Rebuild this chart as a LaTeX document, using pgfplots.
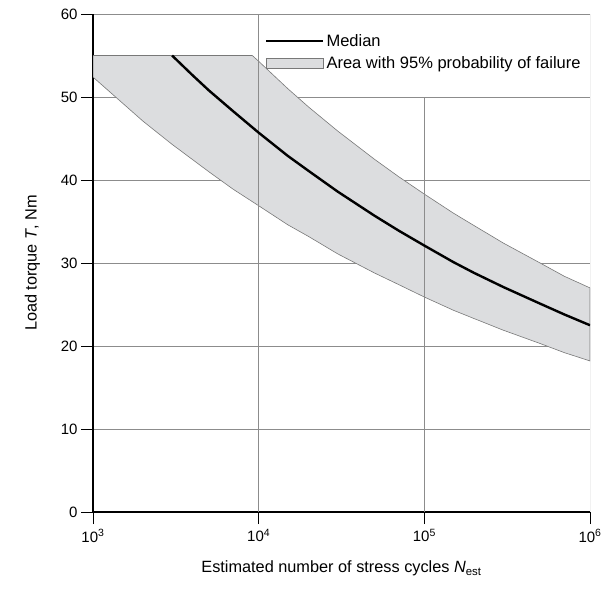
\documentclass[border=0pt]{standalone}
\usepackage{fontspec}
\setmainfont{Liberation Sans}
\usepackage{pgfplots}
\pgfplotsset{compat=1.18}
\definecolor{bandfill}{RGB}{220,221,223}
\definecolor{bandline}{RGB}{120,120,120}
\definecolor{gridc}{RGB}{140,140,140}
\begin{document}
\begin{tikzpicture}
\begin{axis}[
  name=ax,
  scale only axis,
  width=497bp, height=498bp,
  xmode=log,
  xmin=1e3, xmax=1e6,
  ymin=0, ymax=60,
  xtick={1e3,1e4,1e5,1e6},
  xticklabels={10\textsuperscript{3},10\textsuperscript{4},10\textsuperscript{5},10\textsuperscript{6}},
  ytick={0,10,20,30,40,50,60},
  xminorticks=false, yminorticks=false,
  axis x line*=bottom, axis y line*=left,
  axis line style={-, black, line width=1.3bp},
  tick style={black, line width=1bp},
  tick align=outside, major tick length=12bp,
  ymajorgrids, grid style={gridc, line width=0.9bp},
  /pgf/number format/assume math mode=true,
  ticklabel style={font=\fontsize{15bp}{17bp}\selectfont},
  xticklabel style={yshift=-2bp},
  label style={font=\fontsize{16.3bp}{19bp}\selectfont},
  xlabel={Estimated number of stress cycles \textit{N}\textsubscript{est}},
  ylabel={Load torque \textit{T}, Nm},
  xlabel style={yshift=-12bp},
  ylabel style={yshift=14bp},
  legend style={at={(0.34,0.968)}, anchor=north west, draw=none, fill=none,
    font=\fontsize{16.5bp}{19bp}\selectfont, row sep=5bp,
    /tikz/every even column/.append style={column sep=4bp}},
  legend cell align=left,
]
% 95% band
\addplot[fill=bandfill, draw=bandline, line width=0.6bp, forget plot] coordinates {
  (1000,55) (9150,55) (10000,54.3) (15000,51.0) (20000,48.8) (30000,45.9)
  (50000,42.5) (70000,40.4) (100000,38.3) (150000,36.0) (200000,34.5)
  (300000,32.4) (500000,30.0) (700000,28.4) (1000000,27.0)
  (1000000,18.2) (700000,19.2) (500000,20.3) (300000,21.9) (200000,23.3)
  (150000,24.3) (100000,25.9) (70000,27.4) (50000,28.8) (30000,31.1)
  (20000,33.2) (15000,34.6) (10000,36.9) (7000,38.9) (5000,41.0)
  (3000,44.3) (2000,47.1) (1500,49.3) (1000,52.4)
} -- cycle;
% vertical grid lines
\addplot[gridc, line width=0.9bp, forget plot] coordinates {(1e4,0) (1e4,60)};
\addplot[gridc, line width=0.9bp, forget plot] coordinates {(1e5,0) (1e5,50)};
\addplot[gridc, line width=0.9bp, forget plot] coordinates {(1e6,0) (1e6,60)};
% median
\addplot[black, line width=2.4bp, legend image code/.code={
  \draw[black, line width=2.4bp] (0bp,0bp) -- (57bp,0bp);}]
  coordinates {
  (3000,55) (4000,52.6) (5000,50.8) (7000,48.3) (10000,45.7) (15000,42.9)
  (20000,41.1) (30000,38.6) (50000,35.7) (70000,33.9) (100000,32.1)
  (150000,30.1) (200000,28.8) (300000,27.1) (500000,25.1) (700000,23.8)
  (1000000,22.5)};
\addlegendentry{Median}
\addlegendimage{area legend, fill=bandfill, draw=bandline, line width=0.6bp,
  legend image code/.code={
  \draw[fill=bandfill, draw=bandline, line width=0.6bp] (0bp,-5bp) rectangle (57bp,5bp);}}
\addlegendentry{Area with 95\% probability of failure}
\end{axis}
\pgfresetboundingbox
\path[use as bounding box] (ax.south west) ++(-93bp,-82bp) rectangle ++(612bp,594bp);
\end{tikzpicture}
\end{document}
